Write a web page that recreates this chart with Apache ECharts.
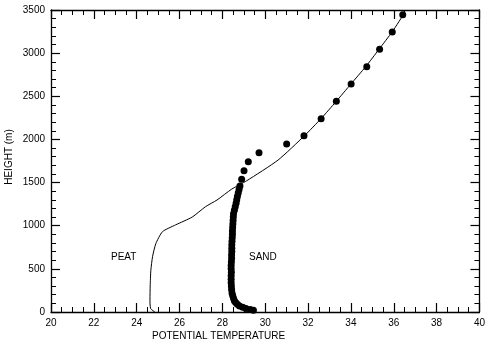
<!DOCTYPE html>
<html><head><meta charset="utf-8">
<script src="https://cdn.jsdelivr.net/npm/echarts@6/dist/echarts.min.js"></script>
<style>html,body{margin:0;padding:0;background:#fff}#c{width:488px;height:348px}</style>
</head><body><div id="c"></div>
<script>
// Potential temperature (x) and height in m (y)
var peatTemp   = [24.85, 24.65, 24.62, 24.63, 24.66, 24.74, 24.89, 25.2, 25.82, 26.59, 27.21, 27.75, 28.44, 29.13, 30.6, 31.84, 32.61, 33.3, 34.0, 34.69, 35.31, 35.93, 36.47];
var peatHeight = [0, 40, 150, 300, 480, 640, 790, 930, 1010, 1100, 1220, 1298, 1425, 1520, 1761, 2045, 2242, 2437, 2642, 2843, 3044, 3248, 3453];

var sandTemp   = [29.45, 29.3, 29.1, 28.95, 28.8, 28.7, 28.62, 28.56, 28.52, 28.48, 28.45, 28.43, 28.42, 28.41, 28.41, 28.41, 28.42, 28.41, 28.41, 28.42, 28.43, 28.43, 28.44, 28.44, 28.44, 28.45, 28.46, 28.47, 28.47, 28.48, 28.49, 28.5, 28.51, 28.52, 28.56, 28.6, 28.64, 28.67, 28.7, 28.74, 28.78, 28.82,
                  28.9, 29.01, 29.21, 29.71, 31.0, 31.81, 32.61, 33.32, 34.01, 34.74, 35.34, 35.93, 36.42];
var sandHeight = [20, 30, 40, 55, 70, 90, 110, 130, 160, 190, 220, 260, 300, 340, 380, 420, 460, 500, 540, 580, 620, 660, 700, 740, 780, 820, 860, 900, 940, 980, 1020, 1060, 1100, 1140, 1180, 1220, 1260, 1300, 1340, 1380, 1420, 1460,
                  1538, 1637, 1742, 1846, 1947, 2043, 2240, 2442, 2642, 2843, 3044, 3245, 3445];

var xTicks = [20, 22, 24, 26, 28, 30, 32, 34, 36, 38, 40];
var yTicks = [0, 500, 1000, 1500, 2000, 2500, 3000, 3500];
var curveLabels = ['PEAT', 'SAND'];
var xTitle = 'POTENTIAL TEMPERATURE';
var yTitle = 'HEIGHT (m)';

function zip(a, b) { return a.map(function (v, i) { return [v, b[i]]; }); }

var FONT = 'Liberation Sans';
var axisCommon = function (isX, show) {
  return {
    type: 'value',
    min: isX ? xTicks[0] : yTicks[0],
    max: isX ? xTicks[xTicks.length - 1] : yTicks[yTicks.length - 1],
    interval: isX ? 2 : 500,
    axisLine: { show: true, onZero: false, lineStyle: { color: '#000', width: 1.3 } },
    axisTick: { show: true, inside: true, length: 9, lineStyle: { color: '#000', width: 1.2 } },
    minorTick: { show: true, splitNumber: isX ? 4 : 5, length: 5, lineStyle: { color: '#000', width: 1 } },
    splitLine: { show: false },
    axisLabel: { show: show, color: '#000', fontFamily: FONT, fontSize: 10, margin: 6,
      formatter: function (v) { return String(v); } }
  };
};

var xB = axisCommon(true, true); xB.position = 'bottom';
var xT = axisCommon(true, false); xT.position = 'top';
var yL = axisCommon(false, true); yL.position = 'left';
var yR = axisCommon(false, false); yR.position = 'right';

var chart = echarts.init(document.getElementById('c'), null, { renderer: 'canvas' });
chart.setOption({
  animation: false,
  backgroundColor: '#fff',
  grid: { left: 51, right: 5, top: 10, bottom: 36, containLabel: false },
  xAxis: [xB, xT],
  yAxis: [yL, yR],
  series: [
    { type: 'line', data: zip(peatTemp, peatHeight), xAxisIndex: 0, yAxisIndex: 0, showSymbol: false, symbol: 'none',
      lineStyle: { color: '#000', width: 1 }, smooth: 0.2 },
    { type: 'scatter', data: zip(sandTemp, sandHeight), xAxisIndex: 0, yAxisIndex: 0, symbol: 'circle', symbolSize: 7,
      itemStyle: { color: '#000', opacity: 1 } }
  ],
  graphic: [
    { type: 'text', left: 111, top: 252, style: { text: curveLabels[0], fill: '#000', font: '10px "' + FONT + '"' } },
    { type: 'text', left: 249, top: 252, style: { text: curveLabels[1], fill: '#000', font: '10px "' + FONT + '"' } },
    { type: 'text', left: 152, top: 331, style: { text: xTitle, fill: '#000', font: '10px "' + FONT + '"' } },
    { type: 'text', x: 9, y: 157, rotation: Math.PI / 2, style: { text: yTitle, fill: '#000', font: '10px "' + FONT + '"', align: 'center', verticalAlign: 'middle' } }
  ]
});
</script></body></html>
